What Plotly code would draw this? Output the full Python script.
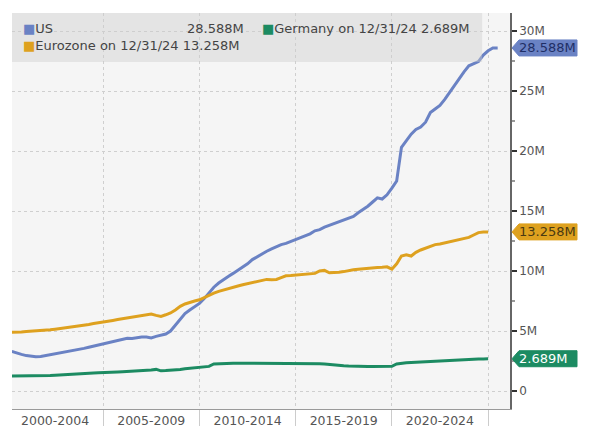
import pandas as pd
import plotly.graph_objects as go

# quarterly observations, values in millions
us_dates = pd.date_range("2000-04-01", periods=102, freq="QS")
ez_dates = us_dates[:100]

us = [3.30, 3.15, 3.05, 2.95, 2.90, 2.85, 2.88, 2.95, 3.00, 3.10,
      3.20, 3.25, 3.30, 3.38, 3.45, 3.55, 3.65, 3.75, 3.85, 3.95,
      4.05, 4.15, 4.25, 4.35, 4.40, 4.38, 4.45, 4.50, 4.50, 4.42,
      4.55, 4.62, 4.75, 5.00, 5.50, 6.00, 6.45, 6.75, 7.05, 7.30,
      7.70, 8.20, 8.65, 9.00, 9.30, 9.55, 9.80, 10.05, 10.30, 10.60,
      10.95, 11.20, 11.45, 11.65, 11.85, 12.05, 12.20, 12.30, 12.45, 12.60,
      12.75, 12.90, 13.10, 13.35, 13.45, 13.65, 13.80, 13.95, 14.10, 14.25,
      14.40, 14.55, 14.85, 15.10, 15.40, 15.75, 16.10, 16.00, 16.35, 16.90,
      17.50, 20.30, 20.90, 21.40, 21.80, 22.00, 22.40, 23.20, 23.50, 23.80,
      24.30, 24.90, 25.40, 26.00, 26.60, 27.10, 27.30, 27.45, 28.00, 28.35,
      28.58, 28.588]

eurozone = [4.90, 4.88, 4.92, 4.95, 4.97, 5.00, 5.02, 5.05, 5.10, 5.15,
            5.20, 5.25, 5.30, 5.38, 5.42, 5.48, 5.55, 5.62, 5.70, 5.78,
            5.82, 5.88, 5.95, 6.02, 6.10, 6.15, 6.22, 6.30, 6.38, 6.42,
            6.30, 6.22, 6.35, 6.50, 6.75, 7.05, 7.25, 7.40, 7.50, 7.60,
            7.80, 8.00, 8.15, 8.30, 8.42, 8.55, 8.65, 8.75, 8.85, 8.95,
            9.05, 9.15, 9.25, 9.30, 9.28, 9.30, 9.45, 9.60, 9.62, 9.65,
            9.70, 9.72, 9.75, 9.80, 10.00, 10.05, 9.85, 9.85, 9.90, 9.95,
            10.05, 10.10, 10.15, 10.20, 10.22, 10.25, 10.30, 10.32, 10.35, 10.15,
            10.60, 11.25, 11.35, 11.25, 11.55, 11.75, 11.90, 12.05, 12.20, 12.25,
            12.35, 12.45, 12.55, 12.65, 12.75, 12.80, 13.00, 13.20, 13.25, 13.258]

germany = [1.25, 1.25, 1.25, 1.25, 1.25, 1.26, 1.27, 1.28, 1.30, 1.32,
           1.35, 1.37, 1.40, 1.42, 1.44, 1.46, 1.48, 1.50, 1.52, 1.55,
           1.55, 1.57, 1.58, 1.60, 1.62, 1.63, 1.65, 1.67, 1.70, 1.75,
           1.80, 1.68, 1.70, 1.72, 1.75, 1.80, 1.85, 1.88, 1.90, 1.95,
           2.00, 2.05, 2.25, 2.28, 2.30, 2.30, 2.31, 2.32, 2.32, 2.33,
           2.33, 2.33, 2.34, 2.34, 2.34, 2.34, 2.33, 2.33, 2.33, 2.32,
           2.32, 2.32, 2.31, 2.30, 2.28, 2.25, 2.20, 2.15, 2.12, 2.10,
           2.08, 2.06, 2.05, 2.05, 2.05, 2.05, 2.05, 2.05, 2.05, 2.06,
           2.25, 2.33, 2.35, 2.38, 2.40, 2.43, 2.46, 2.50, 2.53, 2.55,
           2.57, 2.58, 2.60, 2.61, 2.62, 2.63, 2.65, 2.66, 2.67, 2.689]

period_labels = ["2000-2004", "2005-2009", "2010-2014", "2015-2019", "2020-2024"]
period_mids = ["2002-07-01", "2007-07-01", "2012-07-01", "2017-07-01", "2022-07-01"]
period_breaks = ["2005-01-01", "2010-01-01", "2015-01-01", "2020-01-01", "2025-01-01"]
y_ticks = [0, 5, 10, 15, 20, 25, 30]
y_text = ["0", "5M", "10M", "15M", "20M", "25M", "30M"]

series = [
    ("US", us_dates, us, "#6a82c4", "#1f2f66", "28.588M"),
    ("Eurozone", ez_dates, eurozone, "#dea11f", "#4a3a12", "13.258M"),
    ("Germany", ez_dates, germany, "#1c8b62", "white", "2.689M"),
]

FONT = "DejaVu Sans"
GREY = "#555555"

fig = go.Figure()
for name, xs, ys, col, _, _ in series:
    fig.add_trace(go.Scatter(x=xs, y=ys, mode="lines", name=name,
                             line=dict(color=col, width=3), hoverinfo="skip"))

# last value tags on the right axis
for name, xs, ys, col, txtcol, txt in series:
    fig.add_shape(type="path", xref="paper", yref="y", xsizemode="pixel", ysizemode="pixel",
                  xanchor=1, yanchor=ys[-1],
                  path="M 2 0 L 9 8 L 67 8 L 67 -8 L 9 -8 Z",
                  fillcolor=col, line=dict(color=col, width=1), layer="above")
    fig.add_annotation(x=1, xref="paper", y=ys[-1], yref="y", xanchor="left", xshift=7,
                       text=txt, showarrow=False, font=dict(family=FONT, size=13, color=txtcol))

# legend box (see-through so the grid shows faintly)
fig.add_shape(type="rect", xref="paper", yref="paper", x0=0, x1=0.944, y0=0.876, y1=1.0,
              fillcolor="rgba(205,205,205,0.42)", line=dict(width=0), layer="above")

def sq(col):
    return f"<span style='color:{col}'>■</span>"

leg = [
    (0.018, 0.962, "left", sq("#6a82c4") + "US"),
    (0.47, 0.962, "right", "28.588M"),
    (0.018, 0.919, "left", sq("#dea11f") + "Eurozone on 12/31/24 13.258M"),
    (0.498, 0.962, "left", sq("#1c8b62") + "Germany on 12/31/24 2.689M"),
]
for x, y, anc, t in leg:
    fig.add_annotation(x=x, y=y, xref="paper", yref="paper", xanchor=anc, yanchor="middle",
                       text=t, showarrow=False, font=dict(family=FONT, size=13, color="#444"))

# page body has an 8px margin, so the figure is 8px smaller and shifted
fig.update_layout(
    width=584, height=437,
    margin=dict(l=4, r=82, t=5, b=36),
    paper_bgcolor="white", plot_bgcolor="#f5f5f5",
    showlegend=False,
    font=dict(family=FONT, size=12, color=GREY),
    xaxis=dict(
        type="date", range=["2000-04-05", "2026-02-20"],
        tickmode="array", tickvals=period_mids, ticktext=period_labels,
        ticks="", showgrid=False, zeroline=False,
        showline=True, linecolor="#9a9a9a", linewidth=1,
        tickfont=dict(family=FONT, size=12.5, color=GREY),
        minor=dict(tickmode="array", tickvals=period_breaks, ticks="outside", ticklen=16,
                   tickcolor="#cccccc", showgrid=True, gridcolor="#cfcfcf", griddash="dot"),
    ),
    yaxis=dict(
        side="right", range=[-1.5, 31.5],
        tickmode="array", tickvals=y_ticks, ticktext=y_text,
        ticks="outside", ticklen=5, tickwidth=2, tickcolor="#333",
        showgrid=True, gridcolor="#cfcfcf", griddash="dot", zeroline=False,
        showline=True, linecolor="#666", linewidth=1.5,
        tickfont=dict(family=FONT, size=12, color=GREY),
        minor=dict(tickmode="array", tickvals=[2.5, 7.5, 12.5, 17.5, 22.5, 27.5],
                   ticks="outside", ticklen=3, tickcolor="#999", showgrid=False),
    ),
)

fig.write_html("out.html")
